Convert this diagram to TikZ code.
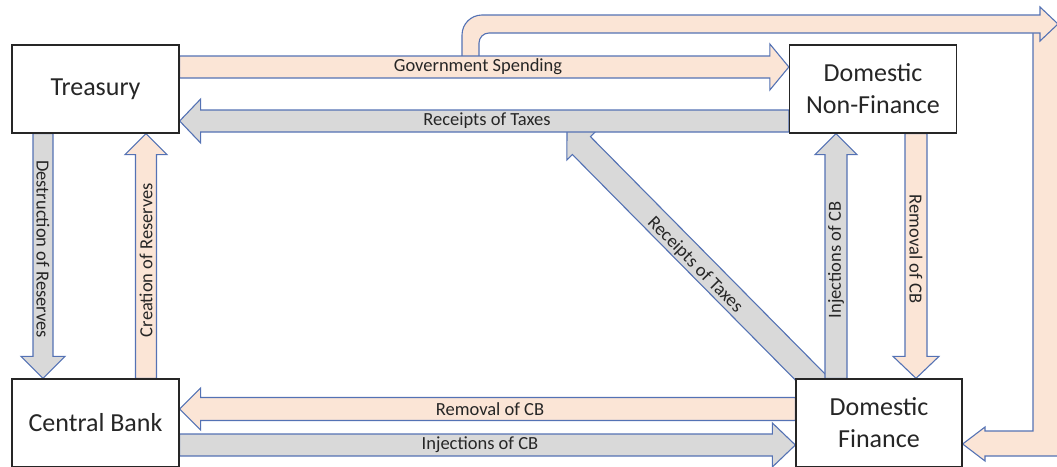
\documentclass[tikz,border=0pt]{standalone}
\usepackage{fontspec}
\setmainfont{Carlito}
\usetikzlibrary{calc}
\definecolor{pinkfill}{HTML}{FBE5D6}
\definecolor{grayfill}{HTML}{D9D9D9}
\definecolor{arrline}{RGB}{84,114,180}
\definecolor{txt}{HTML}{262626}
\pgfdeclarelayer{back}
\pgfsetlayers{back,main}
\newcommand\blockarrow[6]{%
  \coordinate (bxC) at ($(#3)!#6!(#2)$);
  \filldraw[#1] ($(#2)!#4!90:(#3)$) -- ($(bxC)!#4!90:(#3)$) -- ($(bxC)!#5!90:(#3)$) -- (#3)
     -- ($(bxC)!#5!-90:(#3)$) -- ($(bxC)!#4!-90:(#3)$) -- ($(#2)!#4!-90:(#3)$) -- cycle;}
\begin{document}
\begin{tikzpicture}[x=1pt,y=-1pt,
  pinkarr/.style={fill=pinkfill,draw=arrline,line width=1.1pt,line join=miter},
  grayarr/.style={fill=grayfill,draw=arrline,line width=1.1pt,line join=miter},
  box/.style={draw=black!85,line width=1.3pt,fill=white,minimum width=167pt,minimum height=88pt,
    inner sep=0pt,align=center,font=\fontsize{26}{32}\selectfont,text=txt},
  lbl/.style={inner sep=0pt,font=\fontsize{18.5}{20}\selectfont,text=txt}]
\useasboundingbox (0,0) rectangle (1057,466);

% boxes
\node[box] (tr) at (95.5,89) {Treasury};
\node[box] (cb) at (95.5,423) {Central Bank};
\node[box] (dnf) at (873,89) {Domestic\\Non-Finance};
\node[box,minimum width=166pt] (df) at (879,423) {Domestic\\Finance};

% arrow end points
\coordinate (gsA) at (tr.east |- 0,67);
\coordinate (gsB) at (dnf.west |- 0,67);
\coordinate (rtA) at (dnf.west |- 0,121);
\coordinate (rtB) at (tr.east |- 0,121);
\coordinate (drA) at (tr.south -| 43,0);
\coordinate (drB) at (cb.north -| 43,0);
\coordinate (crA) at (cb.north -| 146,0);
\coordinate (crB) at (tr.south -| 146,0);
\coordinate (rcbA) at (df.west |- 0,409);
\coordinate (rcbB) at (cb.east |- 0,409);
\coordinate (icbA) at (cb.east |- 0,445);
\coordinate (icbB) at (df.west |- 0,445);
\coordinate (icvA) at (df.north -| 836,0);
\coordinate (icvB) at (dnf.south -| 836,0);
\coordinate (rcvA) at (dnf.south -| 916,0);
\coordinate (rcvB) at (df.north -| 916,0);
\coordinate (dgA) at (824,391);
\coordinate (dgB) at (567,131);
\coordinate (lpTip) at (df.east |- 0,444);

\begin{pgfonlayer}{back}
% loop: down the right side and into Domestic Finance
\filldraw[pinkarr] (1033,24) -- (1033,431) -- (985,431) -- (985,427) -- (lpTip)
   -- (985,461) -- (985,456) -- (1058,456) -- (1058,24) -- cycle;
% loop: top arrow from Government Spending
\filldraw[pinkarr] (462,58) -- (462,35) arc[start angle=180,end angle=90,radius=20pt]
   -- (1040,15) -- (1040,7) -- (1058,24) -- (1040,41) -- (1040,33)
   -- (489,33) arc[start angle=90,end angle=180,radius=10pt] -- (479,58) -- cycle;
% diagonal
\blockarrow{grayarr}{dgA}{dgB}{12.7pt}{20.5pt}{20.5pt}
% verticals
\blockarrow{grayarr}{drA}{drB}{10pt}{22pt}{22pt}
\blockarrow{pinkarr}{crA}{crB}{10.5pt}{21pt}{21pt}
\blockarrow{grayarr}{icvA}{icvB}{11pt}{21pt}{21pt}
\blockarrow{pinkarr}{rcvA}{rcvB}{11pt}{23pt}{22pt}
% horizontals
\blockarrow{pinkarr}{gsA}{gsB}{11pt}{23pt}{19pt}
\blockarrow{grayarr}{rtA}{rtB}{11pt}{22pt}{21pt}
\blockarrow{pinkarr}{rcbA}{rcbB}{11.5pt}{21pt}{21pt}
\blockarrow{grayarr}{icbA}{icbB}{11pt}{22pt}{23pt}
\end{pgfonlayer}

% labels
\node[lbl] (lgs) at (478,67) {Government Spending};
\node[lbl] (lrt) at (487,121) {Receipts of Taxes};
\node[lbl,rotate=-90] (ldr) at (43,249) {Destruction of Reserves};
\node[lbl,rotate=90] (lcr) at (146,260) {Creation of Reserves};
\node[lbl] (lrcb) at (490,409) {Removal of CB};
\node[lbl] (licb) at (480,445) {Injections of CB};
\node[lbl,rotate=90] (licv) at (836,260) {Injections of CB};
\node[lbl,rotate=-90] (lrcv) at (916,249) {Removal of CB};
\node[lbl,rotate=-45.3] (ldg) at (695,265) {Receipts of Taxes};
\end{tikzpicture}
\end{document}
